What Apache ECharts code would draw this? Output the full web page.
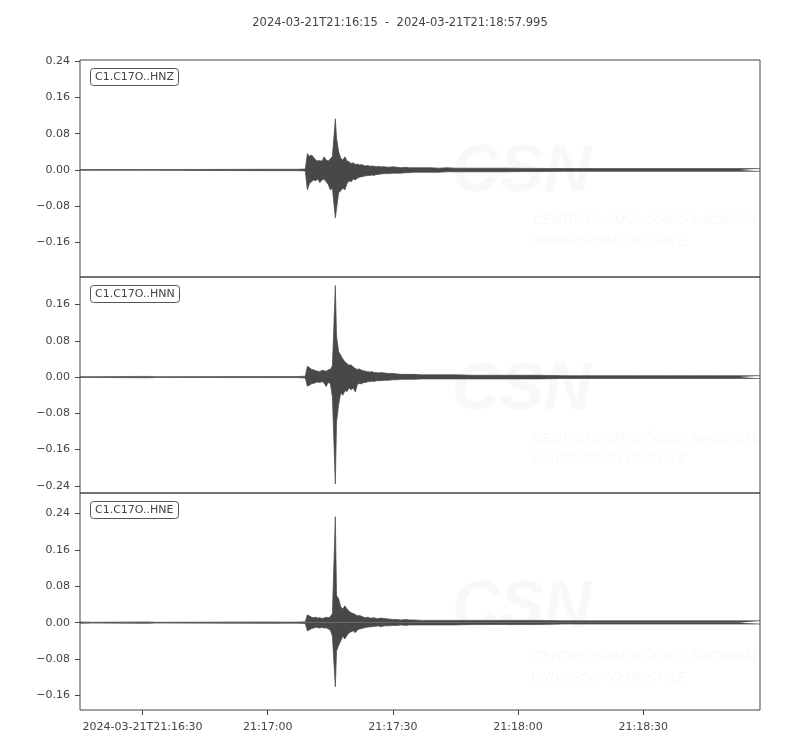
<!DOCTYPE html>
<html><head><meta charset="utf-8">
<script src="https://cdn.jsdelivr.net/npm/echarts@6/dist/echarts.min.js"></script>
<style>html,body{margin:0;padding:0;background:#fff}#c{width:800px;height:750px}</style>
</head><body><div id="c"></div><script>
const titleText = '2024-03-21T21:16:15  -  2024-03-21T21:18:57.995';
const channels = ['C1.C17O..HNZ', 'C1.C17O..HNN', 'C1.C17O..HNE'];

// seconds after 2024-03-21T21:16:15
const T = [0, 3, 15, 16.5, 18, 44, 46, 49, 52, 54,
  54.5, 55, 55.5, 56, 56.5, 57, 57.5, 58, 58.5, 59, 59.5, 60, 60.5, 61.2, 61.5, 62, 62.5, 63, 63.5, 64, 64.5, 65, 65.5, 66, 66.5, 67, 67.5, 68, 68.5, 69, 69.5, 70, 70.5, 71, 71.5, 72,
  73, 74, 75, 76, 77, 78, 79, 80,
  82, 84, 86, 88, 90, 94, 98, 102, 106, 110, 116, 122, 128, 134, 140, 146, 152, 158, 162.995];

// upper / lower envelope of each trace
const hnzHi = [0.0008, 0.0008, 0.0008, 0.0008, 0.0008, 0.0015, 0.0015, 0.0015, 0.0015, 0.002,
  0.036, 0.030, 0.033, 0.028, 0.022, 0.020, 0.021, 0.019, 0.029, 0.022, 0.020, 0.024, 0.030, 0.113, 0.070, 0.040, 0.026, 0.022, 0.029, 0.020, 0.018, 0.014, 0.016, 0.012, 0.013, 0.011, 0.012, 0.010, 0.009, 0.010, 0.008, 0.009, 0.008, 0.007, 0.008, 0.007,
  0.007, 0.006, 0.007, 0.006, 0.005, 0.006, 0.005, 0.005,
  0.005, 0.005, 0.004, 0.005, 0.004, 0.004, 0.004, 0.004, 0.0035, 0.0035, 0.003, 0.003, 0.003, 0.003, 0.003, 0.003, 0.003, 0.003, 0.003];
const hnzLo = [-0.0008, -0.0008, -0.0008, -0.0008, -0.0008, -0.0015, -0.0015, -0.0015, -0.0015, -0.002,
  -0.044, -0.030, -0.026, -0.022, -0.024, -0.020, -0.028, -0.022, -0.020, -0.026, -0.032, -0.044, -0.040, -0.106, -0.085, -0.050, -0.046, -0.040, -0.044, -0.030, -0.024, -0.026, -0.020, -0.022, -0.018, -0.016, -0.015, -0.014, -0.013, -0.012, -0.012, -0.011, -0.012, -0.010, -0.010, -0.009,
  -0.008, -0.008, -0.007, -0.007, -0.007, -0.006, -0.006, -0.005,
  -0.005, -0.005, -0.005, -0.004, -0.004, -0.004, -0.004, -0.004, -0.0035, -0.0035, -0.003, -0.003, -0.003, -0.003, -0.003, -0.003, -0.003, -0.003, -0.003];

const hnnHi = [0.0008, 0.0008, 0.0015, 0.0015, 0.0008, 0.0012, 0.0012, 0.0012, 0.0012, 0.002,
  0.024, 0.021, 0.017, 0.016, 0.014, 0.013, 0.012, 0.015, 0.014, 0.013, 0.016, 0.017, 0.025, 0.202, 0.090, 0.056, 0.048, 0.040, 0.034, 0.030, 0.026, 0.027, 0.022, 0.019, 0.017, 0.018, 0.015, 0.014, 0.013, 0.012, 0.011, 0.012, 0.010, 0.010, 0.009, 0.010,
  0.009, 0.008, 0.008, 0.007, 0.006, 0.006, 0.006, 0.006,
  0.005, 0.005, 0.005, 0.005, 0.005, 0.004, 0.004, 0.004, 0.004, 0.004, 0.003, 0.003, 0.003, 0.003, 0.003, 0.003, 0.003, 0.003, 0.003];
const hnnLo = [-0.0008, -0.0008, -0.0015, -0.0015, -0.0008, -0.0012, -0.0012, -0.0012, -0.0012, -0.002,
  -0.020, -0.018, -0.015, -0.014, -0.012, -0.011, -0.012, -0.010, -0.013, -0.021, -0.012, -0.014, -0.045, -0.236, -0.099, -0.060, -0.035, -0.040, -0.030, -0.032, -0.024, -0.028, -0.024, -0.033, -0.016, -0.014, -0.015, -0.012, -0.012, -0.010, -0.010, -0.009, -0.010, -0.008, -0.008, -0.008,
  -0.007, -0.007, -0.006, -0.006, -0.005, -0.005, -0.005, -0.005,
  -0.004, -0.004, -0.004, -0.004, -0.004, -0.004, -0.004, -0.004, -0.004, -0.004, -0.003, -0.003, -0.003, -0.003, -0.003, -0.003, -0.003, -0.003, -0.003];

const hneHi = [0.0015, 0.0008, 0.0015, 0.0015, 0.0008, 0.0015, 0.0015, 0.0012, 0.0012, 0.002,
  0.017, 0.015, 0.012, 0.011, 0.012, 0.010, 0.011, 0.009, 0.010, 0.012, 0.011, 0.013, 0.020, 0.233, 0.060, 0.052, 0.035, 0.030, 0.037, 0.030, 0.025, 0.022, 0.020, 0.018, 0.015, 0.016, 0.014, 0.012, 0.011, 0.012, 0.010, 0.010, 0.011, 0.009, 0.009, 0.010,
  0.009, 0.008, 0.007, 0.007, 0.006, 0.007, 0.006, 0.006,
  0.005, 0.005, 0.005, 0.005, 0.005, 0.005, 0.005, 0.005, 0.005, 0.005, 0.004, 0.004, 0.004, 0.004, 0.004, 0.004, 0.004, 0.004, 0.004];
const hneLo = [-0.0015, -0.0008, -0.0015, -0.0015, -0.0008, -0.0015, -0.0015, -0.0012, -0.0012, -0.002,
  -0.018, -0.016, -0.013, -0.012, -0.010, -0.011, -0.012, -0.010, -0.012, -0.011, -0.014, -0.016, -0.030, -0.141, -0.062, -0.050, -0.040, -0.030, -0.036, -0.028, -0.022, -0.020, -0.018, -0.022, -0.016, -0.014, -0.013, -0.012, -0.010, -0.010, -0.009, -0.009, -0.008, -0.008, -0.007, -0.009,
  -0.007, -0.007, -0.006, -0.006, -0.005, -0.006, -0.005, -0.005,
  -0.005, -0.005, -0.005, -0.005, -0.005, -0.004, -0.004, -0.004, -0.004, -0.004, -0.003, -0.003, -0.003, -0.003, -0.003, -0.003, -0.003, -0.003, -0.003];

const xTickValues = [15, 45, 75, 105, 135];
const xTickLabels = ['2024-03-21T21:16:30', '21:17:00', '21:17:30', '21:18:00', '21:18:30'];
const yTicks = [
  [0.24, 0.16, 0.08, 0, -0.08, -0.16],
  [0.16, 0.08, 0, -0.08, -0.16, -0.24],
  [0.24, 0.16, 0.08, 0, -0.08, -0.16]
];
const yExtents = [[-0.236, 0.2425], [-0.256, 0.221], [-0.192, 0.285]];
const tEnd = 162.995;

const traces = [[hnzHi, hnzLo], [hnnHi, hnnLo], [hneHi, hneLo]];

const FONT = 'DejaVu Sans';
const INK = '#444';
const TRACE = '#484848';
const gridTops = [60, 277, 493];
const gridHeights = [217, 216, 217];

const grids = [], xAxes = [], yAxes = [], series = [], titles = [], graphics = [];
titles.push({
  text: titleText, left: 'center', top: 12,
  textStyle: {fontFamily: FONT, fontSize: 11.5, fontWeight: 'normal', color: INK}
});
channels.forEach((name, i) => {
  grids.push({left: 80, width: 680, top: gridTops[i], height: gridHeights[i],
    show: true, borderColor: INK, borderWidth: 1, backgroundColor: 'transparent'});
  const last = i === channels.length - 1;
  xAxes.push({
    type: 'value', gridIndex: i, min: 0, max: tEnd, position: 'bottom',
    axisLine: {show: false, onZero: false}, splitLine: {show: false},
    axisTick: {show: last, length: 5, lineStyle: {color: INK}, customValues: xTickValues},
    axisLabel: {show: last, customValues: xTickValues, margin: 12,
      fontFamily: FONT, fontSize: 11, color: INK,
      formatter: v => xTickLabels[xTickValues.indexOf(v)] || ''}
  });
  yAxes.push({
    type: 'value', gridIndex: i, min: yExtents[i][0], max: yExtents[i][1], position: 'left',
    axisLine: {show: false, onZero: false}, splitLine: {show: false},
    axisTick: {show: true, length: 5, lineStyle: {color: INK}, customValues: yTicks[i]},
    axisLabel: {customValues: yTicks[i], margin: 10, fontFamily: FONT, fontSize: 11, color: INK,
      formatter: v => v.toFixed(2).replace('-', '\u2212')}
  });
  const [hi, lo] = traces[i];
  [hi, lo].forEach(arr => {
    series.push({
      type: 'line', xAxisIndex: i, yAxisIndex: i,
      data: T.map((t, k) => [t, arr[k]]),
      showSymbol: false, symbol: 'none', sampling: null, animation: false,
      lineStyle: {color: TRACE, width: 0.7},
      areaStyle: {color: TRACE, opacity: 1},
      z: 3, silent: true
    });
  });
  titles.push({
    text: name, left: 90, top: gridTops[i] + 8,
    padding: [3, 5], borderColor: '#555', borderWidth: 1, borderRadius: 3,
    backgroundColor: '#fff',
    textStyle: {fontFamily: FONT, fontSize: 11, fontWeight: 'normal', color: INK, lineHeight: 12}
  });
  // faint CSN watermark
  const dy = [0, 218, 436][i];
  graphics.push(
    {type: 'text', left: 452, top: 140 + dy, z: 1, silent: true,
      style: {text: 'CSN', fill: '#f8f8f8', fontFamily: 'Liberation Sans', fontStyle: 'italic', fontWeight: 'bold', fontSize: 66}},
    {type: 'text', left: 533, top: 214 + dy, z: 1, silent: true,
      style: {text: 'CENTRO SISMOLÓGICO NACIONAL', fill: '#f8f8f8', fontFamily: 'Liberation Sans', fontStyle: 'italic', fontSize: 13.3}},
    {type: 'text', left: 531, top: 235 + dy, z: 1, silent: true,
      style: {text: 'UNIVERSIDAD DE CHILE', fill: '#f8f8f8', fontFamily: 'Liberation Sans', fontStyle: 'italic', fontSize: 13.3}}
  );
});

const chart = echarts.init(document.getElementById('c'), null, {renderer: 'canvas'});
chart.setOption({
  backgroundColor: '#fff', animation: false,
  title: titles, grid: grids, xAxis: xAxes, yAxis: yAxes, series: series, graphic: graphics
});
</script></body></html>
